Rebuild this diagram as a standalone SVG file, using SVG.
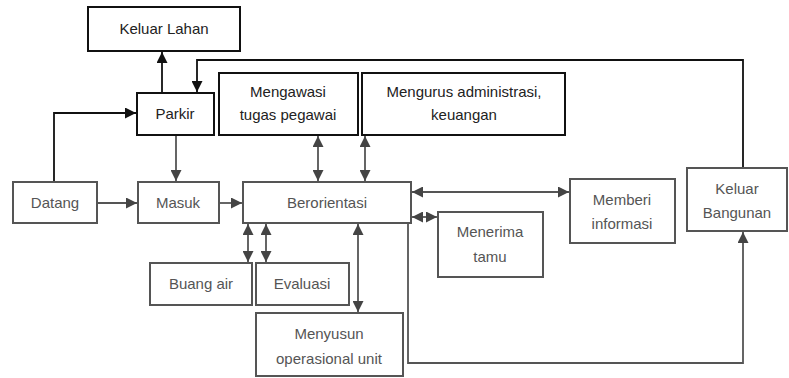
<svg xmlns="http://www.w3.org/2000/svg" width="789" height="378" viewBox="0 0 789 378">
<style>
.bk{fill:#fff;stroke:#111;stroke-width:2}
.gr{fill:#fff;stroke:#555;stroke-width:2}
.t{font-family:"Liberation Sans",Arial,sans-serif;font-size:15px;text-anchor:middle}
.tk{fill:#222}
.tg{fill:#555}
.lk{fill:none;stroke:#111;stroke-width:1.8}
.lg{fill:none;stroke:#555;stroke-width:1.8}
</style>
<defs>
<marker id="ak" viewBox="0 0 10 10" refX="10" refY="5" markerWidth="11" markerHeight="11" markerUnits="userSpaceOnUse" orient="auto-start-reverse"><path d="M0,0 L10,5 L0,10 z" fill="#111"/></marker>
<marker id="ag" viewBox="0 0 10 10" refX="10" refY="5" markerWidth="11" markerHeight="11" markerUnits="userSpaceOnUse" orient="auto-start-reverse"><path d="M0,0 L10,5 L0,10 z" fill="#444"/></marker>
</defs>
<rect width="789" height="378" fill="#fff"/>
<g id="connectors">
<path class="lk" d="M162,93 V52" marker-end="url(#ak)"/>
<path class="lk" d="M743,168 V60 H197 V92" marker-end="url(#ak)"/>
<path class="lk" d="M54,182 V113 H136" marker-end="url(#ak)"/>
<path class="lg" d="M176,135 V181" marker-end="url(#ag)"/>
<path class="lg" d="M97,203 H137" marker-end="url(#ag)"/>
<path class="lg" d="M219,203 H242" marker-end="url(#ag)"/>
<path class="lg" d="M318,136 V181" marker-start="url(#ag)" marker-end="url(#ag)"/>
<path class="lg" d="M365,136 V181" marker-start="url(#ag)" marker-end="url(#ag)"/>
<path class="lg" d="M248,224 V262" marker-start="url(#ag)" marker-end="url(#ag)"/>
<path class="lg" d="M266,224 V262" marker-start="url(#ag)" marker-end="url(#ag)"/>
<path class="lg" d="M358,224 V312" marker-start="url(#ag)" marker-end="url(#ag)"/>
<path class="lg" d="M412,192 H569" marker-start="url(#ag)" marker-end="url(#ag)"/>
<path class="lg" d="M412,217 H437" marker-start="url(#ag)" marker-end="url(#ag)"/>
<path class="lg" d="M408,223 V363 H743 V232" marker-end="url(#ag)"/>
</g>
<g id="keluar-lahan"><rect class="bk" x="88" y="7" width="152" height="44"/><text class="t tk" x="164" y="34">Keluar Lahan</text></g>
<g id="parkir"><rect class="bk" x="137" y="93" width="77" height="42"/><text class="t tk" x="175" y="119">Parkir</text></g>
<g id="mengawasi"><rect class="bk" x="219" y="73" width="139" height="62"/><text class="t tk" x="288" y="97">Mengawasi</text><text class="t tk" x="288" y="120">tugas pegawai</text></g>
<g id="mengurus"><rect class="bk" x="362" y="73" width="203" height="62"/><text class="t tk" x="464" y="97">Mengurus administrasi,</text><text class="t tk" x="464" y="120">keuangan</text></g>
<g id="datang"><rect class="gr" x="13" y="182" width="84" height="41"/><text class="t tg" x="55" y="208">Datang</text></g>
<g id="masuk"><rect class="gr" x="138" y="182" width="81" height="41"/><text class="t tg" x="178" y="208">Masuk</text></g>
<g id="berorientasi"><rect class="gr" x="243" y="182" width="168" height="41"/><text class="t tg" x="327" y="208">Berorientasi</text></g>
<g id="buang-air"><rect class="gr" x="150" y="263" width="102" height="42"/><text class="t tg" x="201" y="289">Buang air</text></g>
<g id="evaluasi"><rect class="gr" x="256" y="263" width="93" height="42"/><text class="t tg" x="302" y="289">Evaluasi</text></g>
<g id="menyusun"><rect class="gr" x="256" y="313" width="147" height="63"/><text class="t tg" x="329" y="339">Menyusun</text><text class="t tg" x="329" y="364">operasional unit</text></g>
<g id="memberi"><rect class="gr" x="570" y="179" width="105" height="64"/><text class="t tg" x="622" y="205">Memberi</text><text class="t tg" x="622" y="229">informasi</text></g>
<g id="menerima"><rect class="gr" x="438" y="212" width="105" height="65"/><text class="t tg" x="490" y="237">Menerima</text><text class="t tg" x="490" y="262">tamu</text></g>
<g id="keluar-bangunan"><rect class="gr" x="687" y="168" width="100" height="63"/><text class="t tg" x="737" y="194">Keluar</text><text class="t tg" x="737" y="218">Bangunan</text></g>
</svg>
